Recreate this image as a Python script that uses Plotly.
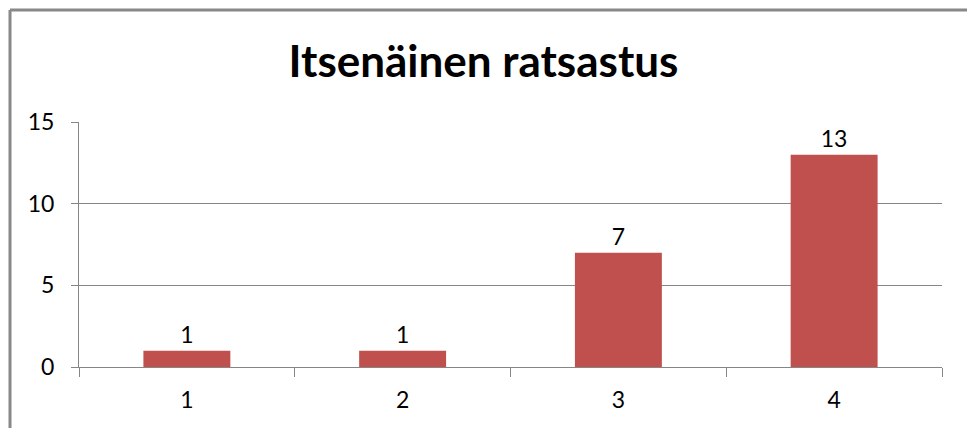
import plotly.graph_objects as go

categories = ["1", "2", "3", "4"]
values = [1, 1, 7, 13]
y_ticks = [0, 5, 10, 15]

W, H = 967, 428
L, R, T, B = 79, 25, 122, 61
pw, ph = W - L - R, H - T - B

fig = go.Figure()
fig.add_trace(go.Bar(
    x=categories, y=values,
    marker=dict(color="#C0504D", line=dict(width=0)),
    text=values, textposition="outside", cliponaxis=False,
    textfont=dict(family="Lato", size=23, color="#000000"),
))

fig.update_layout(
    width=W, height=H,
    margin=dict(l=L, r=R, t=T, b=B),
    paper_bgcolor="white", plot_bgcolor="white",
    bargap=0.597,
    showlegend=False,
    font=dict(family="Lato", size=23, color="#000000"),
    title=dict(text="<b>Itsenäinen ratsastus</b>", x=0.5, xanchor="center",
               y=1 - 62 / H, yanchor="middle",
               font=dict(family="Lato", size=44, color="#000000")),
    xaxis=dict(type="category", tickson="boundaries", ticks="outside", ticklen=9,
               tickcolor="#868686", showline=True, linecolor="#868686", linewidth=1,
               showgrid=False, tickfont=dict(size=23), ticklabelstandoff=12,
               automargin=False),
    yaxis=dict(range=[0, 15], tickvals=y_ticks, ticks="outside", ticklen=7,
               tickcolor="#868686", showline=True, linecolor="#868686", linewidth=1,
               showgrid=True, gridcolor="#868686", gridwidth=1, zeroline=False,
               tickfont=dict(size=23), ticklabelstandoff=12, automargin=False),
)

# outer chart frame: only the top and left edges fall inside the picture
fy = (H - 10 - B) / ph
fx = (10 - L) / pw
fig.add_shape(type="line", xref="paper", yref="paper",
              x0=fx, x1=(W - L) / pw, y0=fy, y1=fy,
              line=dict(color="#888888", width=3))
fig.add_shape(type="line", xref="paper", yref="paper",
              x0=fx, x1=fx, y0=-B / ph, y1=fy,
              line=dict(color="#888888", width=3))

fig.write_html("out.html", config={"displayModeBar": False},
               post_script="document.body.style.margin='0';document.body.style.overflow='hidden';")
